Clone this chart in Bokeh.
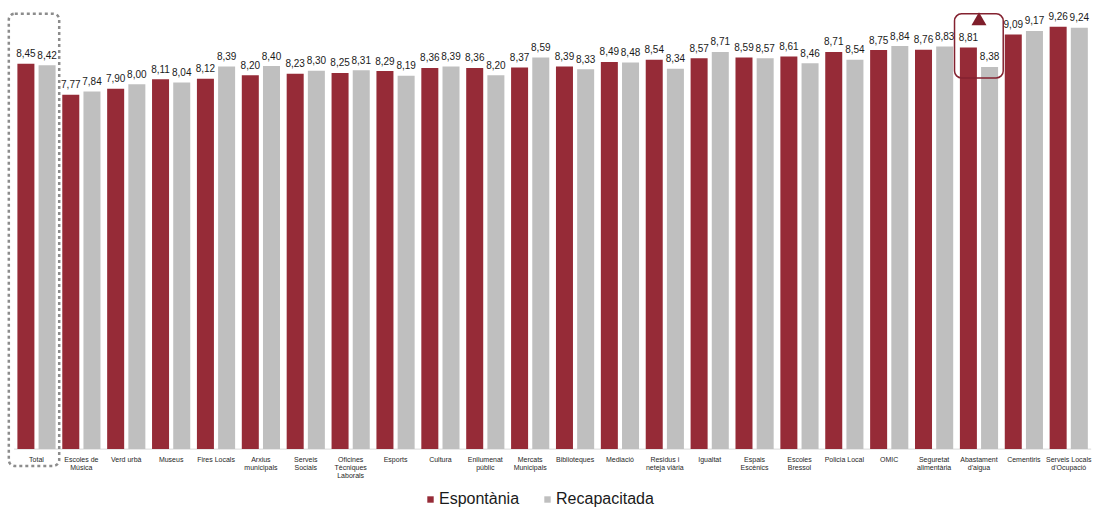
from bokeh.plotting import figure
from bokeh.models import ColumnDataSource, Range1d, BoxAnnotation, Legend, LegendItem
from bokeh.core.properties import value
from bokeh.embed import file_html
from bokeh.resources import INLINE

categories = ["Total", "Escoles de\nMúsica", "Verd urbà", "Museus", "Fires Locals",
              "Arxius\nmunicipals", "Serveis\nSocials", "Oficines\nTècniques\nLaborals",
              "Esports", "Cultura", "Enllumenat\npúblic", "Mercats\nMunicipals",
              "Biblioteques", "Mediació", "Residus i\nneteja viària", "Igualtat",
              "Espais\nEscènics", "Escoles\nBressol", "Policia Local", "OMIC",
              "Seguretat\nalimentària", "Abastament\nd'aigua", "Cementiris",
              "Serveis Locals\nd'Ocupació"]
espontania = [8.45, 7.77, 7.90, 8.11, 8.12, 8.20, 8.23, 8.25, 8.29, 8.36, 8.36, 8.37,
              8.39, 8.49, 8.54, 8.57, 8.59, 8.61, 8.71, 8.75, 8.76, 8.81, 9.09, 9.26]
recapacitada = [8.42, 7.84, 8.00, 8.04, 8.39, 8.40, 8.30, 8.31, 8.19, 8.39, 8.20, 8.59,
                8.33, 8.48, 8.34, 8.71, 8.57, 8.46, 8.54, 8.84, 8.83, 8.38, 9.17, 9.24]
series_names = ["Espontània", "Recapacitada"]

RED = "#962B37"
GRAY = "#BFBFBF"
FONT = value("Liberation Sans")

n = len(categories)
idx = list(range(n))
off = 0.236
bw = 0.379

fmt = lambda v: f"{v:.2f}".replace(".", ",")

src_e = ColumnDataSource(dict(x=[i - off for i in idx], top=espontania,
                              lab=[fmt(v) for v in espontania]))
src_r = ColumnDataSource(dict(x=[i + off for i in idx], top=recapacitada,
                              lab=[fmt(v) for v in recapacitada]))
src_c = ColumnDataSource(dict(x=idx, y=[0] * n, lab=categories))

p = figure(width=1098, height=509, output_backend="svg", toolbar_location=None,
           x_range=Range1d(-0.802, 23.663), y_range=Range1d(-1.3246, 9.838),
           min_border=0, min_border_left=0, min_border_right=0,
           min_border_top=0, min_border_bottom=0)
p.axis.visible = False
p.grid.visible = False
p.outline_line_color = None
p.background_fill_color = "white"
p.border_fill_color = "white"

# baseline
p.segment(x0=[-0.5], y0=[0], x1=[n - 0.5], y1=[0], line_color="#D9D9D9", line_width=1)

r_e = p.vbar(x="x", top="top", width=bw, bottom=0, source=src_e, fill_color=RED, line_color=None)
r_r = p.vbar(x="x", top="top", width=bw, bottom=0, source=src_r, fill_color=GRAY, line_color=None)

for s in (src_e, src_r):
    p.text(x="x", y="top", text="lab", source=s, text_font=FONT, text_font_size="10px",
           text_color="#1A1A1A", text_align="center", text_baseline="alphabetic", y_offset=-10.5)

p.text(x="x", y="y", text="lab", source=src_c, text_font=FONT, text_font_size="7px",
       text_color="#262626", text_align="center", text_baseline="top", y_offset=6.5,
       text_line_height=1.2)

# highlight boxes
p.add_layout(BoxAnnotation(left=0 - 0.617, right=0 + 0.506, top=9.55, bottom=-0.37,
                           fill_alpha=0, line_alpha=1, line_color="#8C8C8C", line_width=2.5,
                           line_dash="3 3", border_radius=6))
p.add_layout(BoxAnnotation(left=21 - 0.545, right=21 + 0.54, top=9.546, bottom=8.14,
                           fill_alpha=0, line_alpha=1, line_color="#842230", line_width=1.5,
                           border_radius=7))
p.scatter(x=[21], y=[9.39], marker="triangle", size=15, fill_color="#7F1E2B",
          line_color=None)

legend = Legend(items=[LegendItem(label=series_names[0], renderers=[r_e]),
                       LegendItem(label=series_names[1], renderers=[r_r])],
                orientation="horizontal", location=(426, 0),
                glyph_width=8, glyph_height=8, label_standoff=5, spacing=24,
                padding=0, margin=0, border_line_alpha=0, background_fill_alpha=0,
                label_text_font="Liberation Sans", label_text_font_size="16px",
                label_text_color="#1A1A1A", label_height=20)
p.add_layout(legend)

open("out.html", "w").write(file_html(p, INLINE))
